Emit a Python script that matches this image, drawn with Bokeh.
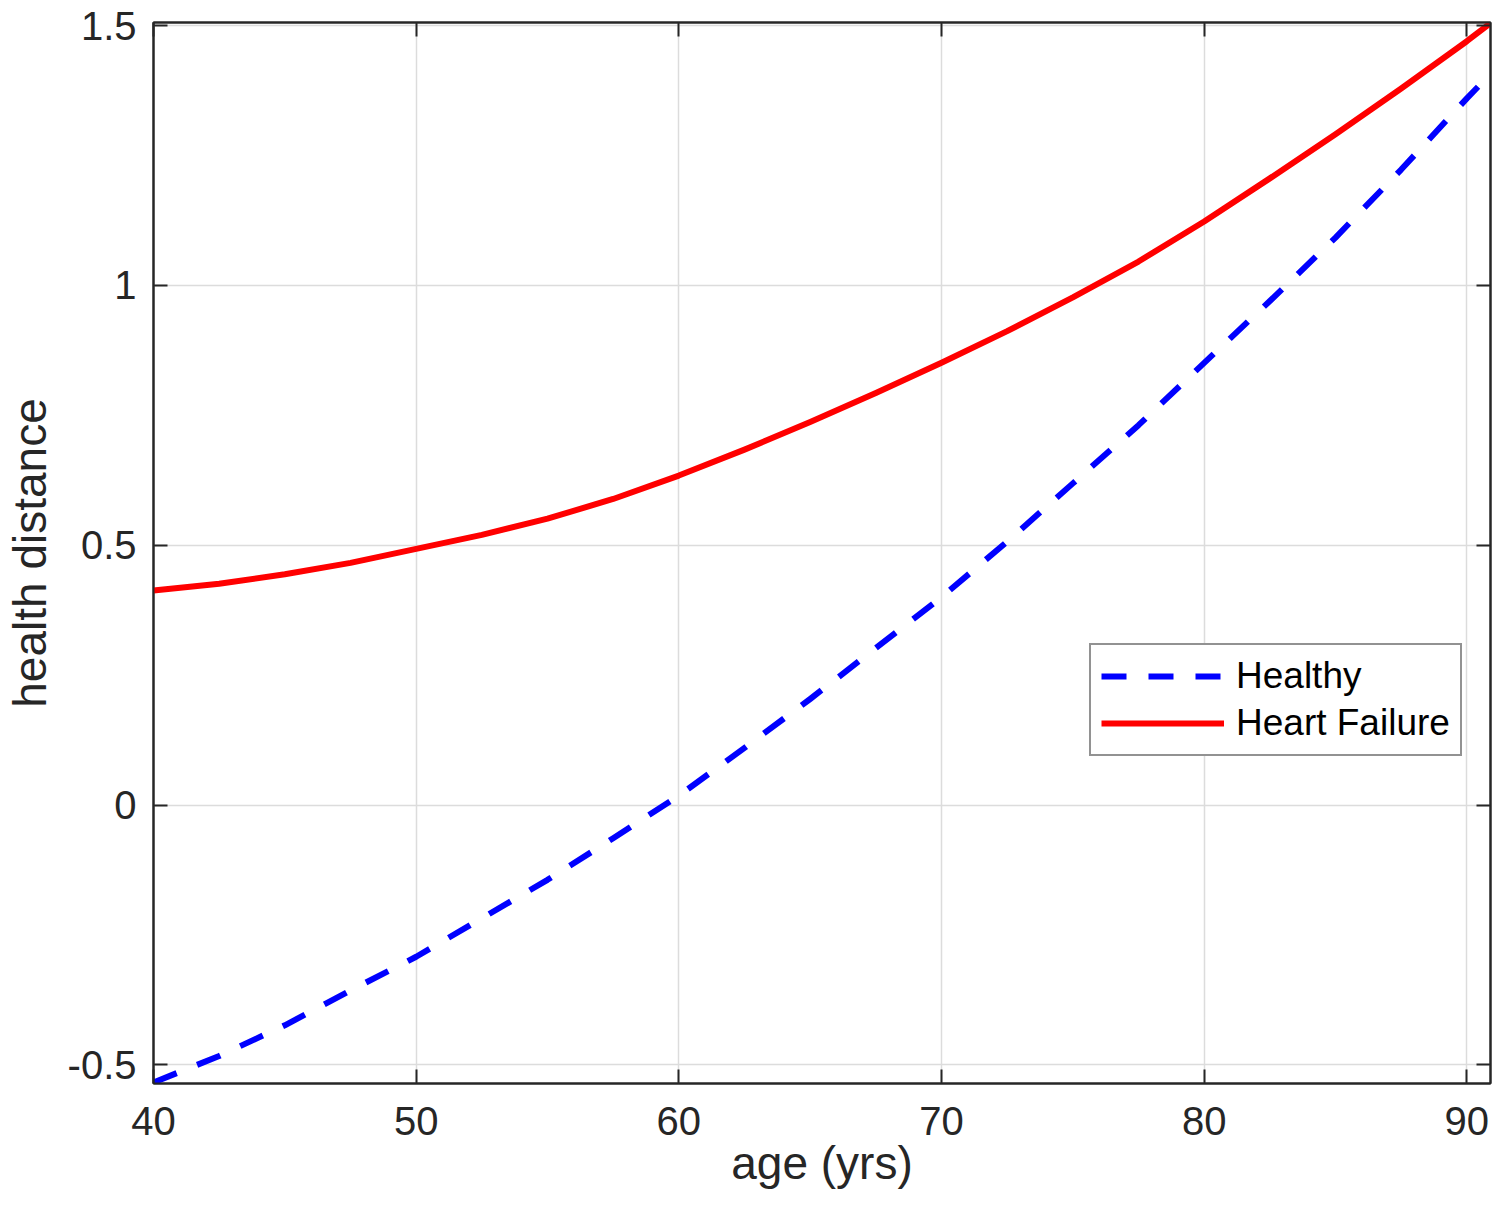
from bokeh.plotting import figure
from bokeh.models import (Range1d, FixedTicker, LinearAxis, Legend, LegendItem,
                          ColumnDataSource)
from bokeh.embed import file_html
from bokeh.resources import INLINE

# ---- data ----
ages = [40, 42.5, 45, 47.5, 50, 52.5, 55, 57.5, 60, 62.5, 65, 67.5, 70,
        72.5, 75, 77.5, 80, 82.5, 85, 87.5, 90, 90.88]
healthy = [-0.534, -0.483, -0.424, -0.357, -0.292, -0.218, -0.144, -0.064, 0.018,
           0.110, 0.204, 0.302, 0.400, 0.507, 0.619, 0.731, 0.851, 0.970, 1.092,
           1.223, 1.360, 1.406]
heart_failure = [0.413, 0.426, 0.444, 0.466, 0.493, 0.520, 0.551, 0.589, 0.634,
                 0.684, 0.737, 0.793, 0.851, 0.912, 0.977, 1.046, 1.123, 1.206,
                 1.291, 1.379, 1.470, 1.504]

x_ticks = [40, 50, 60, 70, 80, 90]
y_ticks = [-0.5, 0, 0.5, 1, 1.5]
y_tick_labels = ["-0.5", "0", "0.5", "1", "1.5"]
x_tick_labels = ["40", "50", "60", "70", "80", "90"]

FONT = "Liberation Sans"
AXC = "#262626"

p = figure(width=1492, height=1201, output_backend="svg", toolbar_location=None,
           x_range=Range1d(40, 90.9), y_range=Range1d(-0.536, 1.506),
           min_border_left=147, min_border_top=22, min_border_right=2,
           min_border_bottom=118, background_fill_color="white",
           border_fill_color="white")

p.outline_line_color = AXC
p.outline_line_width = 2

src_h = ColumnDataSource(dict(x=ages, y=healthy))
src_f = ColumnDataSource(dict(x=ages, y=heart_failure))
r_h = p.line("x", "y", source=src_h, line_color="#0000ff", line_width=6,
             line_dash="25 22", line_cap="butt", line_join="round")
r_f = p.line("x", "y", source=src_f, line_color="#ff0000", line_width=6,
             line_join="round")

def style_axis(ax, ticks, labels, fs):
    ax.ticker = FixedTicker(ticks=ticks)
    ax.major_label_overrides = {t: l for t, l in zip(ticks, labels)}
    ax.major_tick_in = 14
    ax.major_tick_out = 0
    ax.minor_tick_line_color = None
    ax.major_tick_line_color = AXC
    ax.major_tick_line_width = 2
    ax.axis_line_color = AXC
    ax.axis_line_width = 2
    ax.major_label_text_font = FONT
    ax.major_label_text_font_size = fs
    ax.major_label_text_color = AXC

xa = p.xaxis[0]
ya = p.yaxis[0]
style_axis(xa, x_ticks, x_tick_labels, "40px")
style_axis(ya, y_ticks, y_tick_labels, "40px")
xa.major_label_standoff = 23
ya.major_label_standoff = 17
xa.axis_label = "age (yrs)"
ya.axis_label = "health distance"
for ax in (xa, ya):
    ax.axis_label_text_font = FONT
    ax.axis_label_text_font_size = "46px"
    ax.axis_label_text_font_style = "normal"
    ax.axis_label_text_color = AXC
xa.axis_label_standoff = -1
ya.axis_label_standoff = 9

top = LinearAxis()
right = LinearAxis()
style_axis(top, x_ticks, [""] * len(x_ticks), "10px")
style_axis(right, y_ticks, [""] * len(y_ticks), "10px")
top.major_label_standoff = 0
right.major_label_standoff = 0
p.add_layout(top, "above")
p.add_layout(right, "right")

p.xgrid.ticker = FixedTicker(ticks=x_ticks)
p.ygrid.ticker = FixedTicker(ticks=y_ticks)
for g in (p.xgrid, p.ygrid):
    g.grid_line_color = "#dcdcdc"
    g.grid_line_width = 1.5

legend = Legend(items=[LegendItem(label="Healthy", renderers=[r_h]),
                       LegendItem(label="Heart Failure", renderers=[r_f])],
                location=(936, 327))
legend.label_text_font = FONT
legend.label_text_font_size = "37px"
legend.label_text_color = "black"
legend.glyph_width = 123
legend.glyph_height = 40
legend.label_height = 40
legend.label_standoff = 12
legend.spacing = 5
legend.padding = 10
legend.margin = 0
legend.border_line_color = AXC
legend.border_line_width = 2
legend.background_fill_color = "white"
legend.background_fill_alpha = 1
p.add_layout(legend, "center")

open("out.html", "w").write(file_html(p, INLINE))
